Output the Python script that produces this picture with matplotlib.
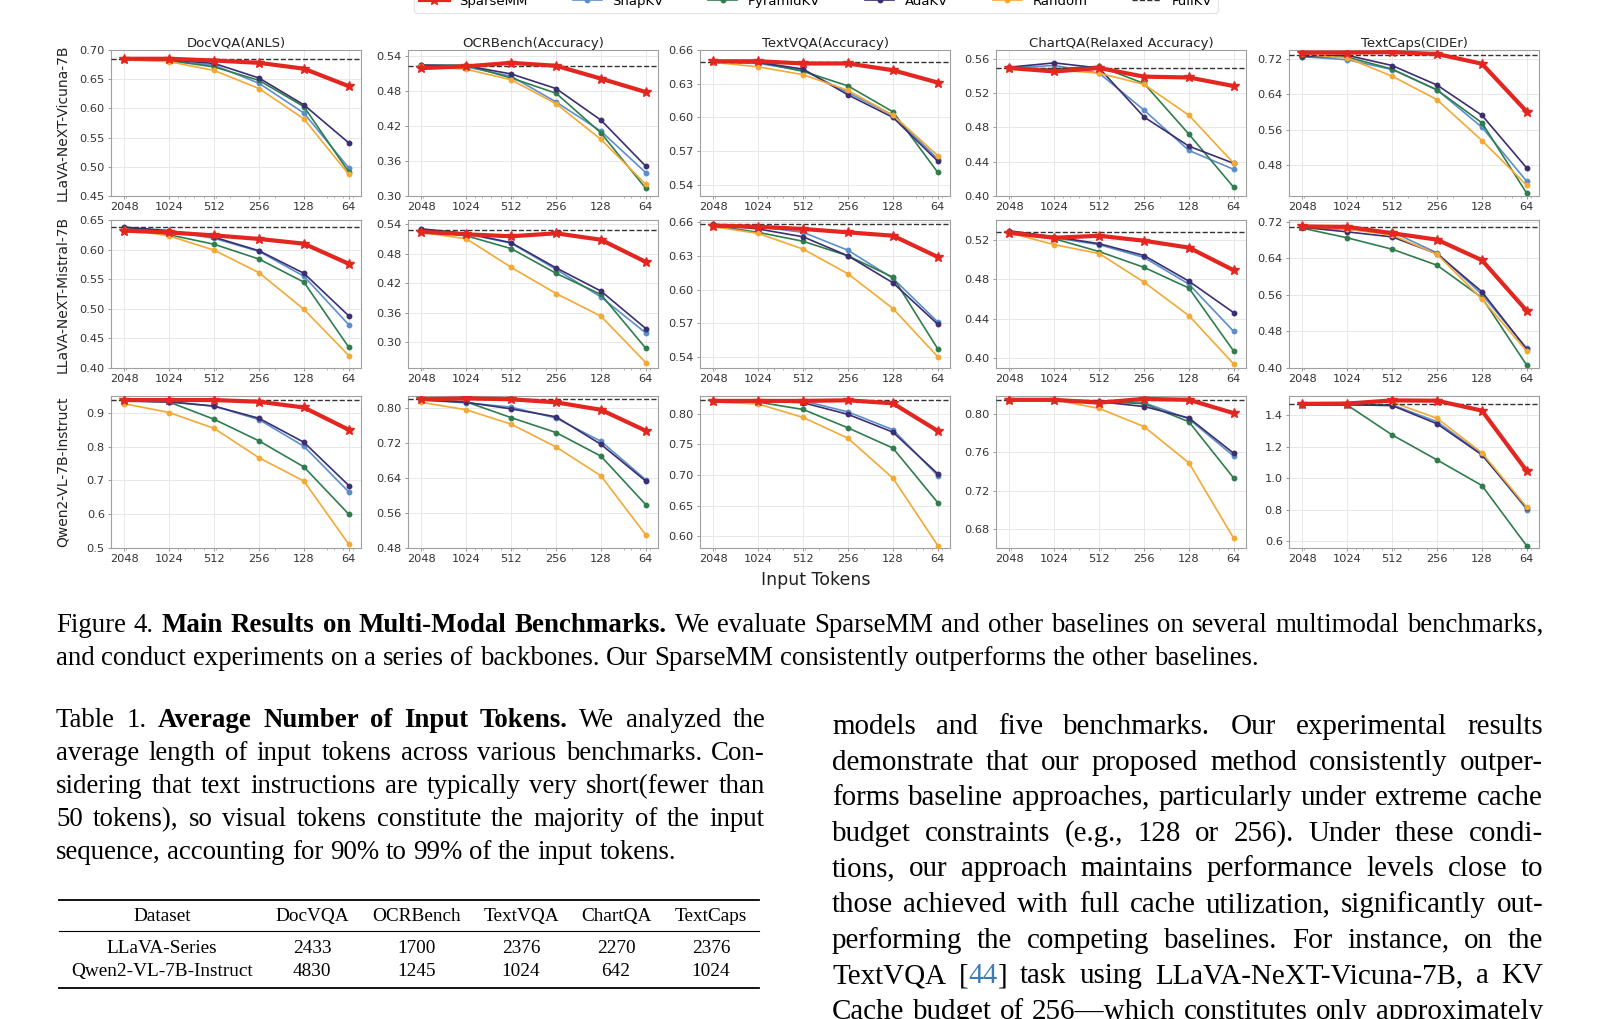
import numpy as np
import matplotlib
matplotlib.use('Agg')
import matplotlib.pyplot as plt
from matplotlib.lines import Line2D
from matplotlib.ticker import NullFormatter

W, H = 1600, 1019
fig = plt.figure(figsize=(W / 100, H / 100), dpi=100)

budgets = [2048, 1024, 512, 256, 128, 64]
benchmarks = ['DocVQA(ANLS)', 'OCRBench(Accuracy)', 'TextVQA(Accuracy)',
              'ChartQA(Relaxed Accuracy)', 'TextCaps(CIDEr)']
models = ['LLaVA-NeXT-Vicuna-7B', 'LLaVA-NeXT-Mistral-7B', 'Qwen2-VL-7B-Instruct']
methods = ['SnapKV', 'PyramidKV', 'AdaKV', 'Random', 'SparseMM']

# LLaVA-NeXT-Vicuna-7B (one row per benchmark, columns follow budgets)
vicuna_sparsemm = [[0.685, 0.685, 0.682, 0.678, 0.668, 0.638],
                   [0.519, 0.522, 0.528, 0.523, 0.501, 0.478],
                   [0.650, 0.650, 0.648, 0.648, 0.642, 0.631],
                   [0.549, 0.545, 0.549, 0.539, 0.538, 0.528],
                   [0.734, 0.734, 0.735, 0.731, 0.709, 0.601]]
vicuna_snapkv = [[0.684, 0.681, 0.674, 0.643, 0.592, 0.498],
                 [0.522, 0.521, 0.505, 0.461, 0.411, 0.340],
                 [0.649, 0.648, 0.642, 0.622, 0.602, 0.563],
                 [0.549, 0.552, 0.543, 0.500, 0.453, 0.431],
                 [0.725, 0.718, 0.696, 0.650, 0.566, 0.444]]
vicuna_pyramidkv = [[0.684, 0.682, 0.671, 0.648, 0.603, 0.491],
                    [0.524, 0.524, 0.502, 0.476, 0.408, 0.313],
                    [0.649, 0.649, 0.641, 0.628, 0.605, 0.551],
                    [0.549, 0.548, 0.551, 0.531, 0.472, 0.410],
                    [0.725, 0.724, 0.697, 0.650, 0.576, 0.417]]
vicuna_adakv = [[0.684, 0.683, 0.677, 0.652, 0.606, 0.541],
                [0.524, 0.523, 0.509, 0.484, 0.430, 0.351],
                [0.650, 0.649, 0.643, 0.620, 0.600, 0.561],
                [0.550, 0.555, 0.549, 0.492, 0.458, 0.438],
                [0.726, 0.728, 0.705, 0.661, 0.593, 0.474]]
vicuna_random = [[0.683, 0.680, 0.665, 0.634, 0.582, 0.487],
                 [0.522, 0.517, 0.499, 0.458, 0.397, 0.320],
                 [0.649, 0.645, 0.638, 0.624, 0.602, 0.566],
                 [0.548, 0.547, 0.543, 0.530, 0.494, 0.438],
                 [0.730, 0.722, 0.681, 0.628, 0.536, 0.435]]
vicuna_fullkv = [0.685, 0.523, 0.649, 0.549, 0.728]

# LLaVA-NeXT-Mistral-7B
mistral_sparsemm = [[0.632, 0.629, 0.624, 0.618, 0.610, 0.576],
                    [0.524, 0.519, 0.515, 0.521, 0.508, 0.463],
                    [0.657, 0.656, 0.654, 0.651, 0.648, 0.629],
                    [0.527, 0.522, 0.524, 0.519, 0.512, 0.489],
                    [0.710, 0.709, 0.695, 0.681, 0.636, 0.525]]
mistral_snapkv = [[0.637, 0.631, 0.619, 0.597, 0.555, 0.473],
                  [0.529, 0.520, 0.501, 0.448, 0.392, 0.319],
                  [0.657, 0.656, 0.651, 0.635, 0.610, 0.571],
                  [0.528, 0.522, 0.515, 0.502, 0.475, 0.427],
                  [0.708, 0.703, 0.698, 0.652, 0.561, 0.443]]
mistral_pyramidkv = [[0.637, 0.625, 0.609, 0.584, 0.545, 0.435],
                     [0.528, 0.516, 0.490, 0.440, 0.397, 0.288],
                     [0.657, 0.651, 0.643, 0.630, 0.611, 0.547],
                     [0.528, 0.521, 0.508, 0.492, 0.471, 0.407],
                     [0.706, 0.685, 0.660, 0.625, 0.554, 0.406]]
mistral_adakv = [[0.638, 0.632, 0.621, 0.598, 0.560, 0.488],
                 [0.530, 0.521, 0.502, 0.451, 0.404, 0.328],
                 [0.658, 0.654, 0.647, 0.630, 0.606, 0.569],
                 [0.529, 0.523, 0.516, 0.504, 0.478, 0.446],
                 [0.708, 0.698, 0.687, 0.650, 0.567, 0.441]]
mistral_random = [[0.635, 0.623, 0.599, 0.561, 0.499, 0.421],
                  [0.523, 0.510, 0.452, 0.399, 0.353, 0.259],
                  [0.656, 0.650, 0.636, 0.614, 0.583, 0.540],
                  [0.527, 0.515, 0.506, 0.477, 0.443, 0.394],
                  [0.710, 0.704, 0.691, 0.649, 0.551, 0.437]]
mistral_fullkv = [0.638, 0.527, 0.658, 0.528, 0.708]

# Qwen2-VL-7B-Instruct
qwen_sparsemm = [[0.938, 0.938, 0.938, 0.933, 0.916, 0.850],
                 [0.820, 0.822, 0.820, 0.813, 0.796, 0.748],
                 [0.821, 0.821, 0.821, 0.822, 0.817, 0.772],
                 [0.815, 0.815, 0.812, 0.816, 0.815, 0.801],
                 [1.473, 1.475, 1.495, 1.493, 1.430, 1.045]]
qwen_snapkv = [[0.935, 0.932, 0.920, 0.880, 0.801, 0.666],
               [0.818, 0.812, 0.802, 0.777, 0.724, 0.636],
               [0.821, 0.821, 0.821, 0.803, 0.774, 0.699],
               [0.815, 0.815, 0.814, 0.812, 0.795, 0.756],
               [1.467, 1.467, 1.467, 1.359, 1.153, 0.800]]
qwen_pyramidkv = [[0.936, 0.932, 0.881, 0.817, 0.740, 0.600],
                  [0.819, 0.814, 0.778, 0.744, 0.690, 0.579],
                  [0.821, 0.819, 0.807, 0.777, 0.744, 0.655],
                  [0.815, 0.815, 0.813, 0.811, 0.792, 0.733],
                  [1.467, 1.465, 1.275, 1.116, 0.953, 0.568]]
qwen_adakv = [[0.936, 0.933, 0.920, 0.884, 0.813, 0.685],
              [0.819, 0.813, 0.798, 0.780, 0.717, 0.633],
              [0.821, 0.821, 0.818, 0.799, 0.770, 0.702],
              [0.815, 0.815, 0.813, 0.808, 0.796, 0.759],
              [1.467, 1.467, 1.462, 1.346, 1.148, 0.809]]
qwen_random = [[0.927, 0.901, 0.854, 0.767, 0.698, 0.511],
               [0.813, 0.796, 0.763, 0.711, 0.645, 0.510],
               [0.819, 0.816, 0.794, 0.760, 0.695, 0.585],
               [0.814, 0.815, 0.806, 0.787, 0.749, 0.670],
               [1.471, 1.475, 1.484, 1.381, 1.161, 0.815]]
qwen_fullkv = [0.938, 0.820, 0.822, 0.815, 1.469]

y_limits = [[(0.45, 0.70), (0.30, 0.55), (0.530, 0.660), (0.40, 0.570), (0.411, 0.740)],
            [(0.40, 0.65), (0.248, 0.548), (0.530, 0.662), (0.390, 0.540), (0.40, 0.724)],
            [(0.50, 0.95), (0.48, 0.8275), (0.581, 0.829), (0.66, 0.819), (0.555, 1.523)]]
y_ticks = [[[0.45, 0.50, 0.55, 0.60, 0.65, 0.70], [0.30, 0.36, 0.42, 0.48, 0.54],
            [0.54, 0.57, 0.60, 0.63, 0.66], [0.40, 0.44, 0.48, 0.52, 0.56], [0.48, 0.56, 0.64, 0.72]],
           [[0.40, 0.45, 0.50, 0.55, 0.60, 0.65], [0.30, 0.36, 0.42, 0.48, 0.54],
            [0.54, 0.57, 0.60, 0.63, 0.66], [0.40, 0.44, 0.48, 0.52], [0.40, 0.48, 0.56, 0.64, 0.72]],
           [[0.5, 0.6, 0.7, 0.8, 0.9], [0.48, 0.56, 0.64, 0.72, 0.80],
            [0.60, 0.65, 0.70, 0.75, 0.80], [0.68, 0.72, 0.76, 0.80], [0.6, 0.8, 1.0, 1.2, 1.4]]]

results = [
    {'SparseMM': vicuna_sparsemm, 'SnapKV': vicuna_snapkv, 'PyramidKV': vicuna_pyramidkv,
     'AdaKV': vicuna_adakv, 'Random': vicuna_random, 'FullKV': vicuna_fullkv},
    {'SparseMM': mistral_sparsemm, 'SnapKV': mistral_snapkv, 'PyramidKV': mistral_pyramidkv,
     'AdaKV': mistral_adakv, 'Random': mistral_random, 'FullKV': mistral_fullkv},
    {'SparseMM': qwen_sparsemm, 'SnapKV': qwen_snapkv, 'PyramidKV': qwen_pyramidkv,
     'AdaKV': qwen_adakv, 'Random': qwen_random, 'FullKV': qwen_fullkv},
]

colors = {'SparseMM': '#e3261f', 'SnapKV': '#5b8fcc', 'PyramidKV': '#2f7d4c',
          'AdaKV': '#3b2f72', 'Random': '#f3a935'}

# table data
table_header = ['Dataset', 'DocVQA', 'OCRBench', 'TextVQA', 'ChartQA', 'TextCaps']
table_datasets = ['LLaVA-Series', 'Qwen2-VL-7B-Instruct']
llava_tokens = [2433, 1700, 2376, 2270, 2376]
qwen_tokens = [4830, 1245, 1024, 642, 1024]

fig_caption = [
    'Figure 4. **Main Results on Multi-Modal Benchmarks.** We evaluate SparseMM and other baselines on several multimodal benchmarks,',
    'and conduct experiments on a series of backbones. Our SparseMM consistently outperforms the other baselines.',
]
table_caption = [
    'Table 1. **Average Number of Input Tokens.** We analyzed the',
    'average length of input tokens across various benchmarks. Con-',
    'sidering that text instructions are typically very short(fewer than',
    '50 tokens), so visual tokens constitute the majority of the input',
    'sequence, accounting for 90% to 99% of the input tokens.',
]
body_text = [
    'models and five benchmarks. Our experimental results',
    'demonstrate that our proposed method consistently outper-',
    'forms baseline approaches, particularly under extreme cache',
    'budget constraints (e.g., 128 or 256). Under these condi-',
    'tions, our approach maintains performance levels close to',
    'those achieved with full cache utilization, significantly out-',
    'performing the competing baselines. For instance, on the',
    'TextVQA [{44}] task using LLaVA-NeXT-Vicuna-7B, a KV',
    'Cache budget of 256—which constitutes only approximately',
]

# ---- grid of line charts ----
col_left = [111, 408, 700, 996, 1289]
col_w = 250
row_top = [50, 220, 396]
row_h = [146, 148, 152]

for r, model in enumerate(models):
    res = results[r]
    for c, bench in enumerate(benchmarks):
        ax = fig.add_axes([col_left[c] / W, 1 - (row_top[r] + row_h[r]) / H,
                           col_w / W, row_h[r] / H])
        for m in methods:
            if m == 'SparseMM':
                ax.plot(budgets, res[m][c], color=colors[m], lw=3.0, marker='*',
                        ms=7, zorder=5)
            else:
                ax.plot(budgets, res[m][c], color=colors[m], lw=1.2, marker='o',
                        ms=3.2, zorder=3)
        ax.axhline(res['FullKV'][c], color='#333333', ls='--', lw=1.0, zorder=4)
        ax.set_xscale('log')
        ax.set_xlim(2520, 53)
        ax.set_xticks(budgets)
        ax.set_xticklabels([str(b) for b in budgets])
        ax.xaxis.set_minor_formatter(NullFormatter())
        ax.set_ylim(*y_limits[r][c])
        ax.set_yticks(y_ticks[r][c])
        ax.grid(True, which='major', color='#e8e8e8', lw=0.7)
        ax.set_axisbelow(True)
        for s in ax.spines.values():
            s.set_color('#a0a0a0')
            s.set_linewidth(0.8)
        ax.tick_params(which='major', labelsize=8.2, labelcolor='#333333',
                       color='#888888', length=2.5, width=0.6, pad=2)
        ax.tick_params(which='minor', length=1.5, width=0.5, color='#999999')
        if r == 0:
            ax.set_title(bench, fontsize=9.5, pad=2.5, color='#222222')
    fig.text(63 / W, 1 - (row_top[r] + row_h[r] / 2) / H, model, rotation=90,
             ha='center', va='center', fontsize=10, color='#222222')

fig.text(816 / W, 1 - 580 / H, 'Input Tokens', ha='center', va='center',
         fontsize=12.5, color='#222222')

handles = [Line2D([], [], color=colors['SparseMM'], lw=3.0, marker='*', ms=7, label='SparseMM')]
for m in ['SnapKV', 'PyramidKV', 'AdaKV', 'Random']:
    handles.append(Line2D([], [], color=colors[m], lw=1.2, marker='o', ms=3.2, label=m))
handles.append(Line2D([], [], color='#333333', ls='--', lw=1.0, label='FullKV'))
fig.legend(handles=handles, loc='lower center', bbox_to_anchor=(816 / W, 1 - 13 / H),
           borderaxespad=0, ncol=6, fontsize=9.5, columnspacing=3.4, handlelength=2.2,
           frameon=True, edgecolor='#e0e0e0')

# ---- paper text below the figure ----
serif = 'Liberation Serif'
renderer = fig.canvas.get_renderer()


def parse(line):
    words = []
    bold = blue = False
    for raw in line.split():
        pieces, buf, i = [], '', 0
        while i < len(raw):
            if raw.startswith('**', i):
                if buf:
                    pieces.append((buf, bold, blue))
                    buf = ''
                bold = not bold
                i += 2
            elif raw[i] in '{}':
                if buf:
                    pieces.append((buf, bold, blue))
                    buf = ''
                blue = raw[i] == '{'
                i += 1
            else:
                buf += raw[i]
                i += 1
        if buf:
            pieces.append((buf, bold, blue))
        words.append(pieces)
    return words


def piece_width(text, bold, size):
    t = fig.text(0, 0, text, fontsize=size, family=serif,
                 fontweight='bold' if bold else 'normal')
    w = t.get_window_extent(renderer).width
    t.remove()
    return w


def natural_width(line, size):
    words = parse(line)
    ws = sum(piece_width(p[0], p[1], size) for w in words for p in w)
    return ws + (len(words) - 1) * 0.25 * size * 100 / 72


def put_line(line, x0, x1, y, size, justify=True):
    words = parse(line)
    widths = [sum(piece_width(p[0], p[1], size) for p in w) for w in words]
    if justify and len(words) > 1:
        gap = (x1 - x0 - sum(widths)) / (len(words) - 1)
    else:
        gap = 0.25 * size * 100 / 72
    x = x0
    for w, wd in zip(words, widths):
        for text, bold, blue in w:
            fig.text(x / W, 1 - y / H, text, fontsize=size, family=serif,
                     fontweight='bold' if bold else 'normal',
                     color='#3d7ab8' if blue else 'black', ha='left', va='baseline')
            x += piece_width(text, bold, size)
        x += gap


cap_size = 10 * 1206 / natural_width(fig_caption[1], 10)
tcap_size = 10 * 620 / natural_width(table_caption[-1], 10)
body_size = 10 * 704 / natural_width(body_text[2], 10)

put_line(fig_caption[0], 56, 1543, 632, cap_size)
put_line(fig_caption[1], 56, 1543, 665, cap_size, justify=False)

for i, line in enumerate(table_caption):
    put_line(line, 56, 765, 727 + i * 33, tcap_size, justify=i < len(table_caption) - 1)

for i, line in enumerate(body_text):
    put_line(line, 832, 1543, 734 + i * 35.6, body_size)

# table
tab_size = 10 * 182 / piece_width('Qwen2-VL-7B-Instruct', False, 10)
col_x = [162, 312, 417, 521, 616, 711]
for y, lw in [(900, 1.3), (931, 0.8), (988, 1.3)]:
    fig.add_artist(Line2D([59 / W, 759 / W], [1 - y / H, 1 - y / H], color='black', lw=lw))
for x, txt in zip(col_x, table_header):
    fig.text(x / W, 1 - 921 / H, txt, fontsize=tab_size, family=serif,
             ha='center', va='baseline')
for y, name, vals in [(953, table_datasets[0], llava_tokens), (976, table_datasets[1], qwen_tokens)]:
    fig.text(col_x[0] / W, 1 - y / H, name, fontsize=tab_size, family=serif,
             ha='center', va='baseline')
    for x, v in zip(col_x[1:], vals):
        fig.text(x / W, 1 - y / H, str(v), fontsize=tab_size, family=serif,
                 ha='center', va='baseline')

fig.savefig('out.png', dpi=100, facecolor='white')
